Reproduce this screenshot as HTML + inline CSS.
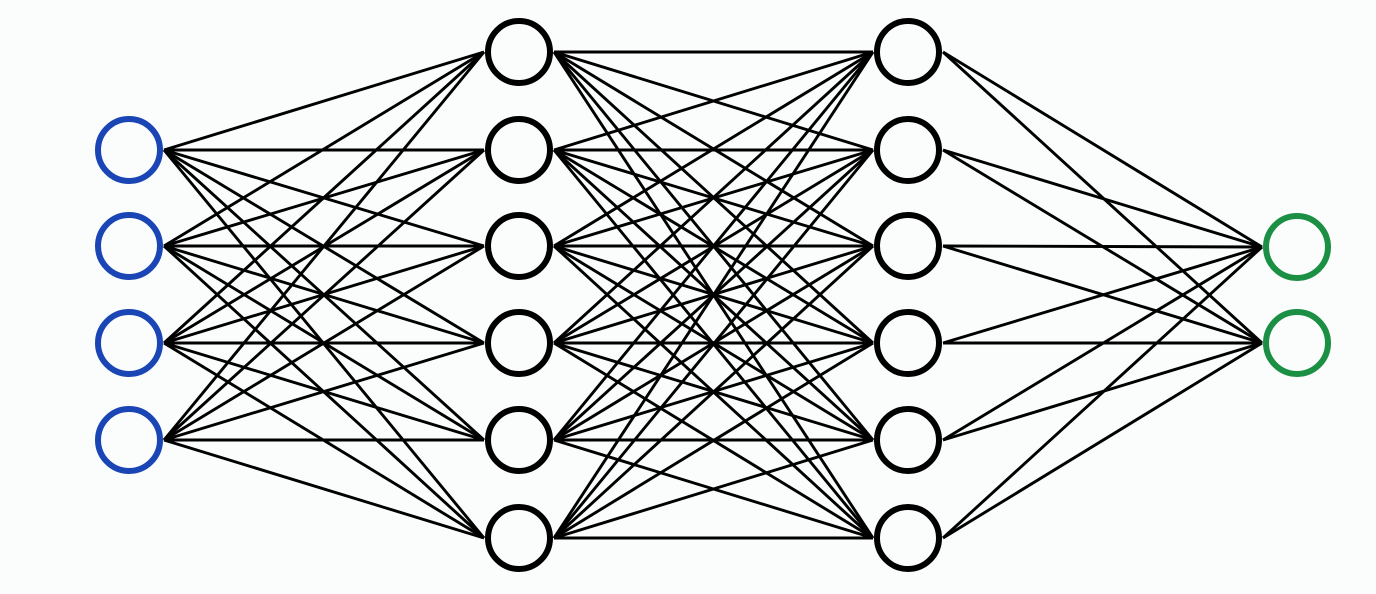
<!DOCTYPE html>
<html><head><meta charset="utf-8"><style>
html,body{margin:0;padding:0;background:#fbfcfc;}
svg{display:block;}
</style></head><body>
<svg id="s" width="1376" height="594" viewBox="0 0 1376 594" xmlns="http://www.w3.org/2000/svg">
<rect width="1376" height="594" fill="#fbfcfc"/>
<g id="lines" stroke="#000" stroke-width="2.9" fill="none"></g>
<g id="nodes" stroke-width="6" fill="#fbfcfc"></g>
</svg>
<script>
var L=[{x:129,ys:[150,246,343,440],c:"#1a45b5"},
{x:519,ys:[52,150,246,343,440,538],c:"#000"},
{x:908,ys:[52,150,246,343,440,538],c:"#000"},
{x:1297,ys:[247,343],c:"#1b9044"}];
var r=31,ns="http://www.w3.org/2000/svg";
var lg=document.getElementById("lines"),ng=document.getElementById("nodes");
for(var i=0;i<3;i++){var a=L[i],b=L[i+1];
a.ys.forEach(function(y1){b.ys.forEach(function(y2){
var l=document.createElementNS(ns,"line");
l.setAttribute("x1",a.x+r+4);l.setAttribute("y1",y1);
l.setAttribute("x2",b.x-r-4);l.setAttribute("y2",y2);lg.appendChild(l);});});}
L.forEach(function(a){a.ys.forEach(function(y){
var c=document.createElementNS(ns,"circle");
c.setAttribute("cx",a.x);c.setAttribute("cy",y);c.setAttribute("r",r);
c.setAttribute("stroke",a.c);ng.appendChild(c);});});
</script>
</body></html>
